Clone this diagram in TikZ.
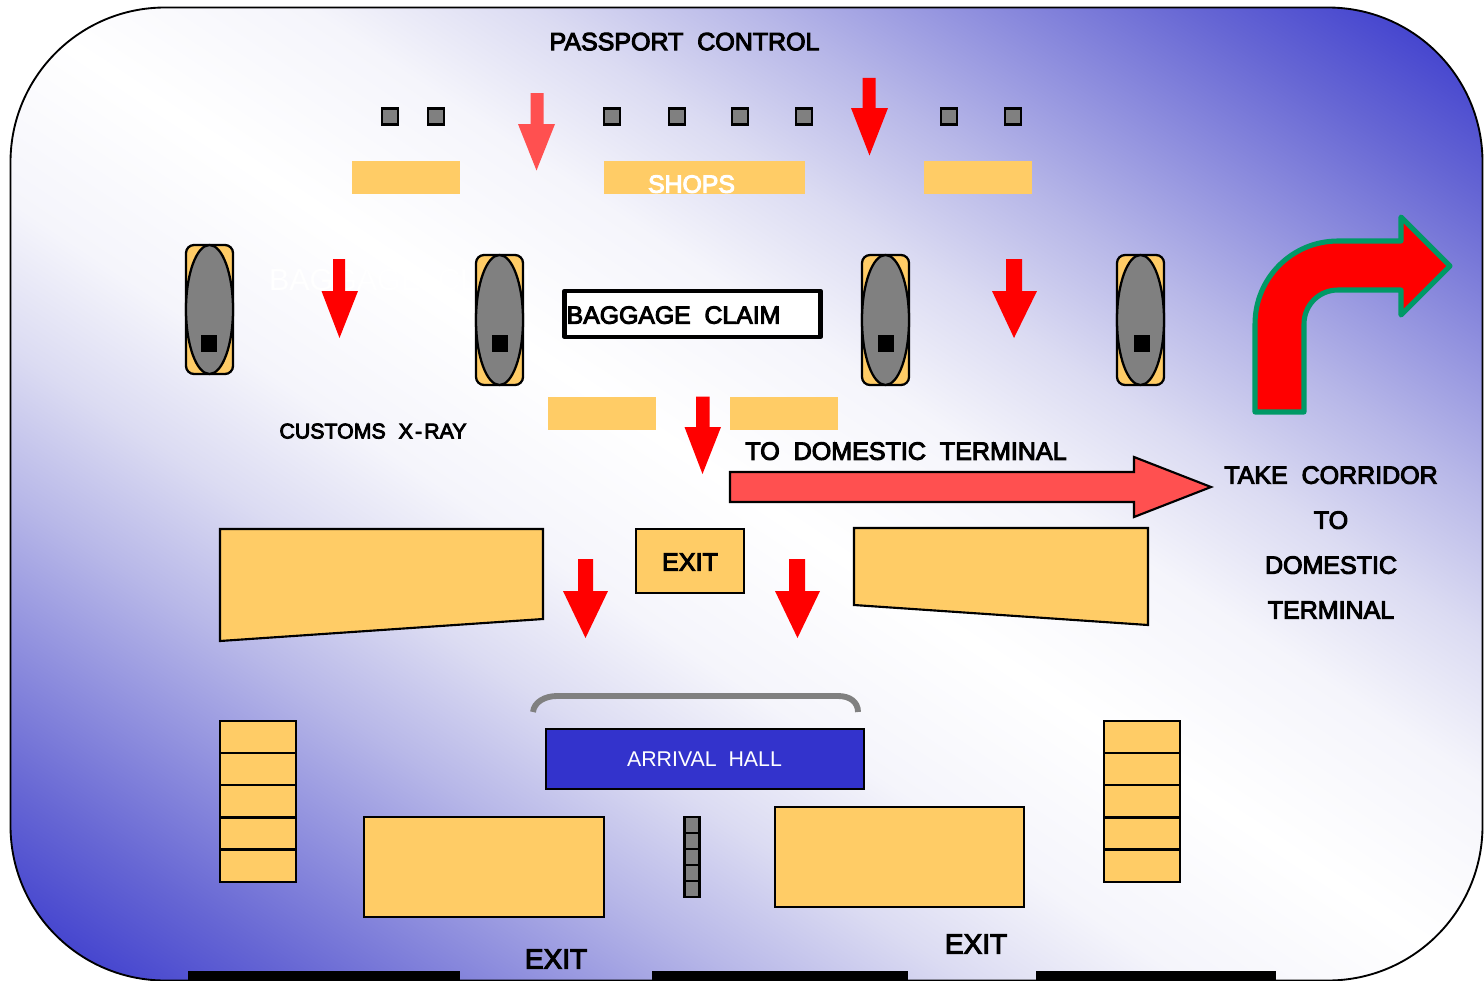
\documentclass[tikz,border=0pt]{standalone}
\usepackage{fontspec}
\setmainfont{Liberation Sans}
\newfontfamily\fb[FakeBold=4]{Liberation Sans}
\definecolor{shopy}{HTML}{FFCC66}
\definecolor{hallb}{HTML}{3333CC}
\definecolor{lightred}{HTML}{FF5050}
\definecolor{turn}{HTML}{009966}
\definecolor{midgray}{HTML}{808080}
\pgfdeclareverticalshading{bgdiag}{100bp}{
 rgb(0bp)=(.2,.2,.8);
 rgb(25bp)=(.2,.2,.8);
 rgb(30bp)=(.40,.40,.83);
 rgb(33.75bp)=(.56,.56,.87);
 rgb(37.5bp)=(.72,.72,.91);
 rgb(41.25bp)=(.86,.86,.95);
 rgb(45bp)=(.96,.96,.985);
 rgb(50bp)=(1,1,1);
 rgb(55bp)=(.96,.96,.985);
 rgb(58.75bp)=(.86,.86,.95);
 rgb(62.5bp)=(.72,.72,.91);
 rgb(66.25bp)=(.56,.56,.87);
 rgb(70bp)=(.40,.40,.83);
 rgb(75bp)=(.2,.2,.8);
 rgb(100bp)=(.2,.2,.8)}
\tikzset{
 x=0.75pt,y=-0.75pt,
 lbl/.style={inner sep=0pt,text depth=0pt,align=center},
 shopbox/.style={fill=shopy},
 yellowbox/.style={fill=shopy,draw=black,line width=1.6pt,line join=miter},
 graybox/.style={fill=midgray,draw=black,line width=1.7pt},
 downarrow/.style={fill=red},
}
\newcommand{\fsz}[1]{\fontsize{#1}{#1}\selectfont\fb}
\begin{document}
\begin{tikzpicture}
\useasboundingbox (0,0) rectangle (1484,981);
\begin{scope}
 \clip[rounded corners=116pt] (10.5,7.5) rectangle (1482.5,980.5);
 \shade[shading=bgdiag,shading angle=-33.46] (-76,-327.5) rectangle (1560,1308.5);
\end{scope}
\draw[line width=1.4pt,rounded corners=116pt] (10.5,7.5) rectangle (1482.5,980.5);
% exit bars
\fill (188,971) rectangle (460,981);
\fill (652,971) rectangle (908,981);
\fill (1036,971) rectangle (1276,981);
% passport booths
\foreach \cx in {390,436,612,677,740,804,949,1013}
 \draw[graybox] (\cx-8,108.5) rectangle (\cx+8,124.5);
% shops
\fill[shopbox] (352,161) rectangle (460,194);
\fill[shopbox] (604,161) rectangle (805,194);
\fill[shopbox] (924,161) rectangle (1032,194);
\fill[shopbox] (548,397) rectangle (656,430);
\fill[shopbox] (730,397) rectangle (838,430);
% white text hidden behind things
\node[lbl,white,anchor=center] (ghost) at (400,280) {\fontsize{22.8pt}{24pt}\selectfont BAGGAGE~~CLAIM};
% carousels
\foreach \cx/\ya/\yb in {209.5/245/374,499.5/255/385,885.5/255/385,1140.5/255/385}{
 \draw[yellowbox,line width=1.7pt,rounded corners=6pt] (\cx-23.5,\ya) rectangle (\cx+23.5,\yb);
 \draw[graybox] (\cx,{(\ya+\yb)/2}) ellipse [x radius=23.5,y radius={(\yb-\ya)/2}];
}
\fill (201,335) rectangle (217,352);
\fill (492,335) rectangle (508,352);
\fill (878,335) rectangle (894,352);
\fill (1134,335) rectangle (1150,352);
% red down arrows
\fill[fill=lightred] (530.5,93) -- (543.5,93) -- (543.5,124) -- (555,124) -- (536.5,170.5) -- (518,124) -- (530.5,124) -- cycle;
\fill[downarrow] (862.5,78) -- (875.5,78) -- (875.5,108) -- (888,108) -- (869.5,155.5) -- (851,108) -- (862.5,108) -- cycle;
\fill[downarrow] (333,259) -- (345,259) -- (345,291) -- (358,291) -- (339.5,338) -- (321.5,291) -- (333,291) -- cycle;
\fill[downarrow] (1006,259) -- (1022,259) -- (1022,291) -- (1037,291) -- (1014,338) -- (992,291) -- (1006,291) -- cycle;
\fill[downarrow] (696,396.5) -- (709.5,396.5) -- (709.5,427) -- (721,427) -- (702.5,474) -- (684.5,427) -- (696,427) -- cycle;
\fill[downarrow] (578,559) -- (593,559) -- (593,591) -- (608,591) -- (585.5,638) -- (563,591) -- (578,591) -- cycle;
\fill[downarrow] (789,559) -- (805,559) -- (805,591) -- (820,591) -- (797.5,638) -- (775,591) -- (789,591) -- cycle;
% claim box
\draw[fill=white,line width=3.2pt,line join=round] (564.5,291) rectangle (820.5,337);
% long arrow
\draw[fill=lightred,line width=1.6pt,line join=miter] (730,472) -- (1134,472) -- (1134,457) -- (1211,487) -- (1134,517) -- (1134,502) -- (730,502) -- cycle;
% turn arrow
\draw[fill=red,draw=turn,line width=3.8pt,line join=round]
 (1255,412) -- (1255,324) .. controls (1255,278) and (1292,241) .. (1338,241)
 -- (1401,241) -- (1401,217) -- (1450,266) -- (1401,315) -- (1401,290) -- (1338,290)
 .. controls (1319,290) and (1304,305) .. (1304,324) -- (1304,412) -- cycle;
% stands
\draw[yellowbox] (220,529) -- (543,529) -- (543,619) -- (220,641) -- cycle;
\draw[yellowbox] (854,528) -- (1148,528) -- (1148,625) -- (854,605) -- cycle;
\draw[yellowbox] (636,529) rectangle (744,593);
\draw[yellowbox] (364,817) rectangle (604,917);
\draw[yellowbox] (775,807) rectangle (1024,907);
\foreach \xa in {220,1104}{
 \foreach \ya/\yb in {721/753,753/785,785/817.5,817.5/849.5,849.5/882}
  \draw[yellowbox] (\xa,\ya) rectangle (\xa+76,\yb);
}
% arrival hall
\draw[line width=4.4pt,draw=midgray] (533,712) .. controls (534,702) and (545,696) .. (557,696) -- (838,696) .. controls (850,696) and (858,702) .. (858,712);
\draw[fill=hallb,line width=1.6pt] (546,729) rectangle (864,789);
\foreach \ya/\yb in {817/833,833/849,849/865,865/881,881/897}
 \draw[graybox] (684.5,\ya) rectangle (699.5,\yb);
% labels
\node[lbl] (passport) at (684.5,41.5) {\fsz{18.75pt}PASSPORT~~CONTROL};
\node[lbl,white] (shops) at (691.5,184) {\fsz{18.6pt}SHOPS};
\node[lbl] (claim) at (673.5,315) {\fsz{18.6pt}BAGGAGE~~CLAIM};
\node[lbl] (customs) at (373,431) {\fsz{16pt}CUSTOMS~~\kern0.8pt X\kern1.6pt-\kern1.6pt RAY};
\node[lbl] (domestic) at (906,451) {\fsz{18.8pt}TO~~DOMESTIC~~TERMINAL};
\node[lbl] (exitc) at (690,562) {\fsz{18.9pt}EXIT};
\node[lbl,white] (hall) at (704.5,759) {\fontsize{16pt}{16pt}\selectfont ARRIVAL~~HALL};
\node[lbl] (exita) at (556,959) {\fsz{21pt}EXIT};
\node[lbl] (exitb) at (976,944) {\fsz{21pt}EXIT};
\node[lbl] (t1) at (1331,475) {\fsz{18.75pt}TAKE~~CORRIDOR};
\node[lbl] (t2) at (1331,520) {\fsz{18.75pt}TO};
\node[lbl] (t3) at (1331,565) {\fsz{18.75pt}DOMESTIC};
\node[lbl] (t4) at (1331,610) {\fsz{18.75pt}TERMINAL};
\end{tikzpicture}
\end{document}
